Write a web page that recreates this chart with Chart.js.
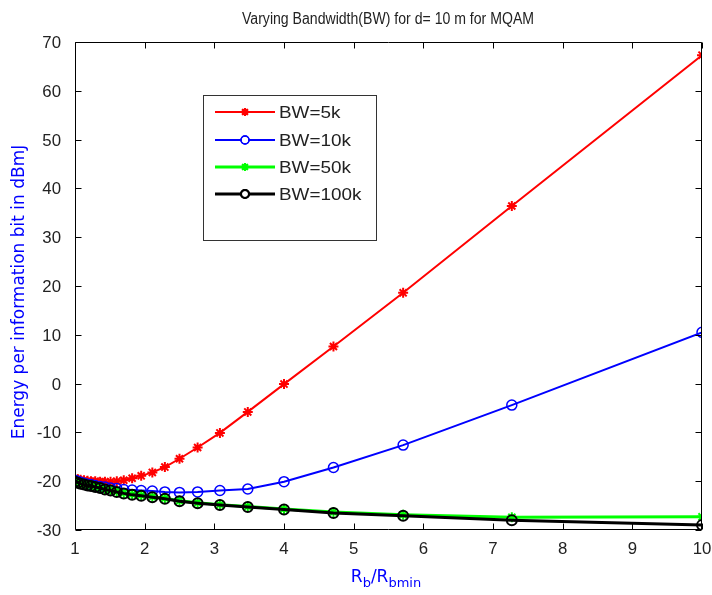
<!DOCTYPE html>
<html>
<head>
<meta charset="utf-8">
<title>Varying Bandwidth(BW) for d= 10 m for MQAM</title>
<script src="https://cdn.jsdelivr.net/npm/chart.js@4/dist/chart.umd.min.js"></script>
<style>
  html, body { margin: 0; padding: 0; background: #fff; }
  #plot { display: block; }
</style>
</head>
<body>
<canvas id="plot" width="712" height="595"></canvas>
<script>
// Rb/Rbmin sample points shared by every curve
const rateRatio = [1, 1.04, 1.08, 1.13, 1.18, 1.23, 1.29, 1.36, 1.43, 1.51, 1.6, 1.7, 1.82, 1.95,
                   2.11, 2.29, 2.5, 2.76, 3.08, 3.48, 4, 4.71, 5.71, 7.27, 10];

// Energy per information bit (dBmJ) for each bandwidth
const energyBW5k   = [-19.4, -19.6, -19.7, -19.8, -19.9, -20.0, -20.0, -20.1, -20.1, -20.1, -20.0, -19.8, -19.4, -18.9,
                      -18.2, -17.1, -15.4, -13.1, -10.1, -5.8, -0.1, 7.6, 18.6, 36.4, 67.3];
const energyBW10k  = [-19.8, -20.0, -20.2, -20.4, -20.6, -20.7, -20.9, -21.1, -21.2, -21.4, -21.5, -21.7, -21.8, -21.9,
                      -22.0, -22.2, -22.3, -22.2, -21.9, -21.6, -20.1, -17.2, -12.6, -4.4, 10.5];
const energyBW50k  = [-20.0, -20.2, -20.4, -20.6, -20.8, -20.9, -21.1, -21.3, -21.6, -21.8, -22.1, -22.4, -22.7, -22.9,
                      -23.2, -23.5, -24.0, -24.4, -24.8, -25.2, -25.7, -26.3, -26.9, -27.4, -27.3];
const energyBW100k = [-20.1, -20.3, -20.5, -20.7, -20.9, -21.0, -21.2, -21.4, -21.7, -21.9, -22.2, -22.5, -22.8, -23.0,
                      -23.3, -23.6, -24.1, -24.5, -24.9, -25.3, -25.8, -26.5, -27.1, -28.0, -29.0];

const seriesLabels = ['BW=5k', 'BW=10k', 'BW=50k', 'BW=100k'];
const xTickValues = [1, 2, 3, 4, 5, 6, 7, 8, 9, 10];
const yTickValues = [-30, -20, -10, 0, 10, 20, 30, 40, 50, 60, 70];

const titleText = 'Varying Bandwidth(BW) for d= 10 m for MQAM';
const yTitleText = 'Energy per information bit in dBmJ';

// Line / marker styles, drawn so that the later curves sit on top
const seriesStyles = [
  { color: '#ff0000', marker: 'star',   line: 2,   markerLine: 2, order: 3 },
  { color: '#0000ff', marker: 'circle', line: 2,   markerLine: 1.5, order: 2 },
  { color: '#00ff00', marker: 'star',   line: 3,   markerLine: 2, order: 1 },
  { color: '#000000', marker: 'circle', line: 3,   markerLine: 2,   order: 0 }
];
const seriesValues = [energyBW5k, energyBW10k, energyBW50k, energyBW100k];

const datasets = seriesValues.map((vals, i) => ({
  label: seriesLabels[i],
  data: rateRatio.map((x, j) => ({ x: x, y: vals[j] })),
  borderColor: seriesStyles[i].color,
  backgroundColor: 'rgba(0,0,0,0)',
  borderWidth: seriesStyles[i].line,
  pointStyle: seriesStyles[i].marker,
  pointRadius: 5,
  pointBorderWidth: seriesStyles[i].markerLine,
  pointBorderColor: seriesStyles[i].color,
  pointBackgroundColor: 'rgba(0,0,0,0)',
  tension: 0,
  order: seriesStyles[i].order
}));

const TICK_FONT = '16px "Liberation Sans", Arial, sans-serif';
const TITLE_FONT = '16px "Liberation Sans", Arial, sans-serif';
const LEGEND_FONT = '16px "Liberation Sans", Arial, sans-serif';
const LABEL_FONT = '17px "DejaVu Sans", sans-serif';
const SUB_FONT = '13px "DejaVu Sans", sans-serif';

function stretchedText(ctx, text, x, y, font, sx, align, color) {
  ctx.save();
  ctx.font = font;
  ctx.fillStyle = color;
  ctx.textBaseline = 'alphabetic';
  ctx.translate(x, y);
  ctx.scale(sx, 1);
  ctx.textAlign = align;
  ctx.fillText(text, 0, 0);
  ctx.restore();
}

// Axes box, inward ticks, tick labels, titles and the legend
const axesDecor = {
  id: 'axesDecor',
  afterDraw(chart) {
    const { ctx, chartArea: a, scales } = chart;
    const xs = scales.x, ys = scales.y;
    const L = Math.round(a.left) + 0.5, R = Math.round(a.right) - 0.5;
    const T = Math.round(a.top) + 0.5, B = Math.round(a.bottom) - 0.5;
    const tick = 6;
    ctx.save();
    ctx.strokeStyle = '#000';
    ctx.lineWidth = 1;
    ctx.beginPath();
    ctx.rect(L, T, R - L, B - T);
    xTickValues.forEach(v => {
      const px = Math.round(xs.getPixelForValue(v)) + 0.5;
      ctx.moveTo(px, B); ctx.lineTo(px, B - tick);
      ctx.moveTo(px, T); ctx.lineTo(px, T + tick);
    });
    yTickValues.forEach(v => {
      const py = Math.round(ys.getPixelForValue(v)) + 0.5;
      ctx.moveTo(L, py); ctx.lineTo(L + tick, py);
      ctx.moveTo(R, py); ctx.lineTo(R - tick, py);
    });
    ctx.stroke();

    // tick labels
    xTickValues.forEach(v => {
      stretchedText(ctx, String(v), xs.getPixelForValue(v), a.bottom + 24, TICK_FONT, 1.05, 'center', '#222');
    });
    yTickValues.forEach(v => {
      stretchedText(ctx, String(v), a.left - 14, ys.getPixelForValue(v) + 6, TICK_FONT, 1.05, 'right', '#222');
    });

    // title
    stretchedText(ctx, titleText, 388, 24, TITLE_FONT, 0.88, 'center', '#222');

    // y axis title
    ctx.save();
    ctx.translate(24, 292);
    ctx.rotate(-Math.PI / 2);
    stretchedText(ctx, yTitleText, 0, 0, LABEL_FONT, 1.0, 'center', '#0000ff');
    ctx.restore();

    // x axis title: R_b / R_bmin with subscripts
    ctx.save();
    ctx.fillStyle = '#0000ff';
    ctx.textBaseline = 'alphabetic';
    ctx.textAlign = 'left';
    const parts = [['R', LABEL_FONT, 0], ['b', SUB_FONT, 5], ['/R', LABEL_FONT, 0], ['bmin', SUB_FONT, 5]];
    let total = 0;
    parts.forEach(p => { ctx.font = p[1]; total += ctx.measureText(p[0]).width; });
    let cx = 386 - total / 2;
    parts.forEach(p => {
      ctx.font = p[1];
      ctx.fillText(p[0], cx, 582 + p[2]);
      cx += ctx.measureText(p[0]).width;
    });
    ctx.restore();

    // legend
    const box = { x: 203.5, y: 95.5, w: 173, h: 145 };
    ctx.fillStyle = '#fff';
    ctx.fillRect(box.x, box.y, box.w, box.h);
    ctx.strokeStyle = '#333';
    ctx.lineWidth = 1;
    ctx.strokeRect(box.x, box.y, box.w, box.h);
    const rows = [112, 140, 167, 194];
    chart.data.datasets.forEach((ds, i) => {
      const y = rows[i];
      ctx.strokeStyle = ds.borderColor;
      ctx.lineWidth = ds.borderWidth;
      ctx.beginPath();
      ctx.moveTo(215, y); ctx.lineTo(275, y);
      ctx.stroke();
      ctx.lineWidth = ds.pointBorderWidth;
      Chart.helpers.drawPoint(ctx, { pointStyle: ds.pointStyle, radius: 4, rotation: 0, borderWidth: ds.pointBorderWidth }, 245, y);
      ctx.stroke();
      stretchedText(ctx, ds.label, 279, y + 6, LEGEND_FONT, 1.18, 'left', '#222');
    });
    ctx.restore();
  }
};

new Chart(document.getElementById('plot'), {
  type: 'line',
  data: { datasets: datasets },
  options: {
    responsive: false,
    devicePixelRatio: 1,
    animation: false,
    events: [],
    layout: { padding: { top: 42, right: 10, left: 0, bottom: 0 } },
    plugins: { legend: { display: false }, title: { display: false }, tooltip: { enabled: false } },
    scales: {
      x: {
        type: 'linear', min: 1, max: 10,
        ticks: { display: false, stepSize: 1 },
        grid: { display: false },
        border: { display: false },
        afterFit: s => { s.height = 65; }
      },
      y: {
        type: 'linear', min: -30, max: 70,
        ticks: { display: false, stepSize: 10 },
        grid: { display: false },
        border: { display: false },
        afterFit: s => { s.width = 75; }
      }
    }
  },
  plugins: [axesDecor]
});
</script>
</body>
</html>
